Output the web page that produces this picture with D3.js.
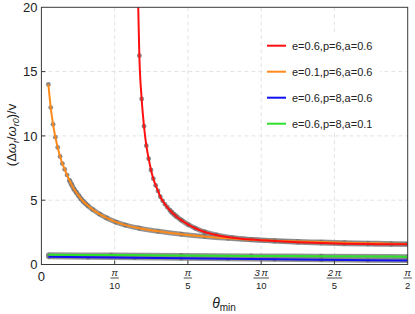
<!DOCTYPE html>
<html>
<head>
<meta charset="utf-8">
<script src="https://cdn.jsdelivr.net/npm/d3@7"></script>
<style>
    body { margin: 0; background: #fff; }
    svg { display: block; font-family: "Liberation Sans", Arial, sans-serif; }
</style>
</head>
<body>
<div id="ChartDiv"></div>
<script>
// values (theta in rad, y = (dw_r/w_r0)/v)
const redTheta = [0.414, 0.42, 0.43, 0.44, 0.45, 0.46, 0.47, 0.48, 0.49, 0.50, 0.51, 0.52, 0.53, 0.54, 0.55, 0.56, 0.57, 0.58, 0.60, 0.63, 0.66, 0.70, 0.75, 0.82, 0.90, 1.00, 1.10, 1.20, 1.30, 1.40, 1.50, 1.571];
const redVals  = [21.0, 16.24, 12.87, 10.75, 9.24, 8.23, 7.35, 6.67, 6.16, 5.72, 5.27, 4.95, 4.68, 4.45, 4.24, 4.05, 3.88, 3.72, 3.45, 3.10, 2.82, 2.53, 2.30, 2.08, 1.94, 1.82, 1.73, 1.67, 1.62, 1.59, 1.575, 1.57];

const orangeTheta = [0.03, 0.04, 0.05, 0.06, 0.07, 0.08, 0.09, 0.10, 0.11, 0.12, 0.13, 0.14, 0.15, 0.16, 0.17, 0.18, 0.19, 0.20, 0.22, 0.25, 0.28, 0.32, 0.36, 0.42, 0.50, 0.60, 0.70, 0.80, 0.90, 1.00, 1.10, 1.20, 1.30, 1.40, 1.50, 1.571];
const orangeVals  = [14.0, 12.2, 10.9, 9.9, 9.1, 8.4, 7.85, 7.4, 6.95, 6.55, 6.2, 5.85, 5.6, 5.35, 5.1, 4.9, 4.72, 4.56, 4.27, 3.92, 3.62, 3.30, 3.06, 2.82, 2.58, 2.36, 2.18, 2.04, 1.93, 1.85, 1.79, 1.74, 1.70, 1.66, 1.62, 1.60];

const blueTheta = [0.03, 0.2, 0.4, 0.6, 0.8, 1.0, 1.2, 1.4, 1.571];
const blueVals  = [0.60, 0.57, 0.53, 0.49, 0.45, 0.41, 0.37, 0.34, 0.31];

const greenTheta = [0.03, 0.3, 0.6, 0.9, 1.2, 1.571];
const greenVals  = [0.75, 0.73, 0.70, 0.67, 0.64, 0.61];

const seriesNames  = ["e=0.6,p=6,a=0.6", "e=0.1,p=6,a=0.6", "e=0.6,p=8,a=0.6", "e=0.6,p=8,a=0.1"];
const seriesColors = ["#ff1010", "#ff8a1c", "#1010f0", "#2ee02e"];

const yTicks = [0, 5, 10, 15, 20];
const xTickNum = ["0", "\u03c0", "\u03c0", "3\u2009\u03c0", "2\u2009\u03c0", "\u03c0"];
const xTickDen = ["", "10", "5", "10", "5", "2"];
const xTickVals = [0, Math.PI / 10, Math.PI / 5, 3 * Math.PI / 10, 2 * Math.PI / 5, Math.PI / 2];

// where the gray point band starts to merge into a continuous line
const haloFrom = [0.55, 0.12, 0, 0];


function createViz() {
    const W = 415, H = 314;
    const left = 41.4, right = 407.7, top = 7.3, bottom = 264.5;

    const svg = d3.select("#ChartDiv").append("svg")
        .attr("width", W)
        .attr("height", H);

    const x = d3.scaleLinear().domain([0, Math.PI / 2]).range([left, right]);
    const y = d3.scaleLinear().domain([0, 20]).range([bottom, top]);

    svg.append("clipPath").attr("id", "plotClip")
        .append("rect")
        .attr("x", left).attr("y", top)
        .attr("width", right - left).attr("height", bottom - top);

    // grid
    svg.append("g").selectAll("line")
        .data(xTickVals.slice(1, 5))
        .join("line")
        .attr("x1", d => x(d)).attr("x2", d => x(d))
        .attr("y1", top).attr("y2", bottom)
        .attr("stroke", "#e2e2e2").attr("stroke-dasharray", "4,3");
    svg.append("g").selectAll("line")
        .data(yTicks.slice(1, 4))
        .join("line")
        .attr("x1", left).attr("x2", right)
        .attr("y1", d => y(d)).attr("y2", d => y(d))
        .attr("stroke", "#e2e2e2").attr("stroke-dasharray", "4,3");

    const series = [
        {theta: redTheta, vals: redVals},
        {theta: orangeTheta, vals: orangeVals},
        {theta: blueTheta, vals: blueVals},
        {theta: greenTheta, vals: greenVals}
    ].map((s, i) => ({
        name: seriesNames[i],
        color: seriesColors[i],
        halo: haloFrom[i],
        pts: s.theta.map((t, j) => ({t: t, v: s.vals[j]}))
    }));

    const line = d3.line()
        .x(d => x(d.t))
        .y(d => y(d.v))
        .curve(d3.curveMonotoneX);

    const plot = svg.append("g").attr("clip-path", "url(#plotClip)");

    // gray sample points (halo + dots)
    series.forEach(s => {
        plot.append("path")
            .datum(s.pts.filter(d => d.t >= s.halo))
            .attr("d", line)
            .attr("fill", "none")
            .attr("stroke", "#808080")
            .attr("stroke-opacity", 0.85)
            .attr("stroke-width", 5);
        plot.append("g").selectAll("circle")
            .data(s.pts)
            .join("circle")
            .attr("cx", d => x(d.t))
            .attr("cy", d => y(d.v))
            .attr("r", 2.4)
            .attr("fill", "#737373")
            .attr("fill-opacity", 0.85);
    });

    // curves: blue, green, orange, red on top
    [2, 3, 1, 0].forEach(i => {
        const s = series[i];
        plot.append("path")
            .datum(s.pts)
            .attr("d", line)
            .attr("fill", "none")
            .attr("stroke", s.color)
            .attr("stroke-width", 2);
    });

    // frame
    svg.append("rect")
        .attr("x", left).attr("y", top)
        .attr("width", right - left).attr("height", bottom - top)
        .attr("fill", "none").attr("stroke", "#3a3a3a").attr("stroke-width", 1);

    // ticks (inside)
    svg.append("g").selectAll("line")
        .data(xTickVals.slice(1, 5))
        .join("line")
        .attr("x1", d => x(d)).attr("x2", d => x(d))
        .attr("y1", bottom).attr("y2", bottom - 4)
        .attr("stroke", "#3a3a3a");
    svg.append("g").selectAll("line")
        .data(yTicks.slice(1, 4))
        .join("line")
        .attr("x1", left).attr("x2", left + 4)
        .attr("y1", d => y(d)).attr("y2", d => y(d))
        .attr("stroke", "#3a3a3a");

    // y tick labels
    svg.append("g").selectAll("text")
        .data(yTicks)
        .join("text")
        .attr("x", left - 4)
        .attr("y", d => y(d) + 4.6)
        .attr("text-anchor", "end")
        .attr("font-size", 13)
        .attr("fill", "#222")
        .text(d => d);

    // x tick labels (fractions of pi)
    const xl = svg.append("g");
    xTickVals.forEach((v, i) => {
        const cx = x(v);
        if (xTickDen[i] === "") {
            xl.append("text")
                .attr("x", cx).attr("y", bottom + 16)
                .attr("text-anchor", "middle")
                .attr("font-size", 13).attr("fill", "#222")
                .text(xTickNum[i]);
            return;
        }
        const num = xl.append("text")
            .attr("x", cx).attr("y", bottom + 11.5)
            .attr("text-anchor", "middle")
            .attr("font-size", 9.5).attr("fill", "#222")
            .attr("font-style", "italic")
            .text(xTickNum[i]);
        const w = num.node().getComputedTextLength();
        xl.append("line")
            .attr("x1", cx - w / 2 - 1).attr("x2", cx + w / 2 + 1)
            .attr("y1", bottom + 13.5).attr("y2", bottom + 13.5)
            .attr("stroke", "#222").attr("stroke-width", 0.8);
        xl.append("text")
            .attr("x", cx).attr("y", bottom + 24.5)
            .attr("text-anchor", "middle")
            .attr("font-size", 9.5).attr("fill", "#222")
            .text(xTickDen[i]);
    });

    // axis titles
    const xt = svg.append("text")
        .attr("x", 224).attr("y", 308)
        .attr("text-anchor", "middle")
        .attr("fill", "#222");
    xt.append("tspan").attr("font-size", 14).attr("font-style", "italic").text("\u03b8");
    xt.append("tspan").attr("font-size", 10).attr("dy", 3).text("min");

    const yt = svg.append("text")
        .attr("transform", "translate(16,135) rotate(-90)")
        .attr("text-anchor", "middle")
        .attr("font-size", 13)
        .attr("fill", "#222");
    yt.append("tspan").text("(\u0394");
    yt.append("tspan").attr("font-style", "italic").text("\u03c9");
    yt.append("tspan").attr("font-size", 9).attr("font-style", "italic").attr("dy", 3).text("r");
    yt.append("tspan").attr("dy", -3).text("/");
    yt.append("tspan").attr("font-style", "italic").text("\u03c9");
    yt.append("tspan").attr("font-size", 9).attr("font-style", "italic").attr("dy", 3).text("r0");
    yt.append("tspan").attr("dy", -3).text(")/v");

    // legend
    const lg = svg.append("g");
    lg.append("rect")
        .attr("x", 264).attr("y", 33)
        .attr("width", 116).attr("height", 100)
        .attr("fill", "#fff");
    series.forEach((s, i) => {
        const ly = 45.7 + i * 26;
        lg.append("line")
            .attr("x1", 267).attr("x2", 286)
            .attr("y1", ly).attr("y2", ly)
            .attr("stroke", s.color).attr("stroke-width", 2);
        lg.append("text")
            .attr("x", 292).attr("y", ly + 4)
            .attr("font-size", 11).attr("fill", "#222")
            .text(s.name);
    });
}

createViz();
</script>
</body>
</html>
